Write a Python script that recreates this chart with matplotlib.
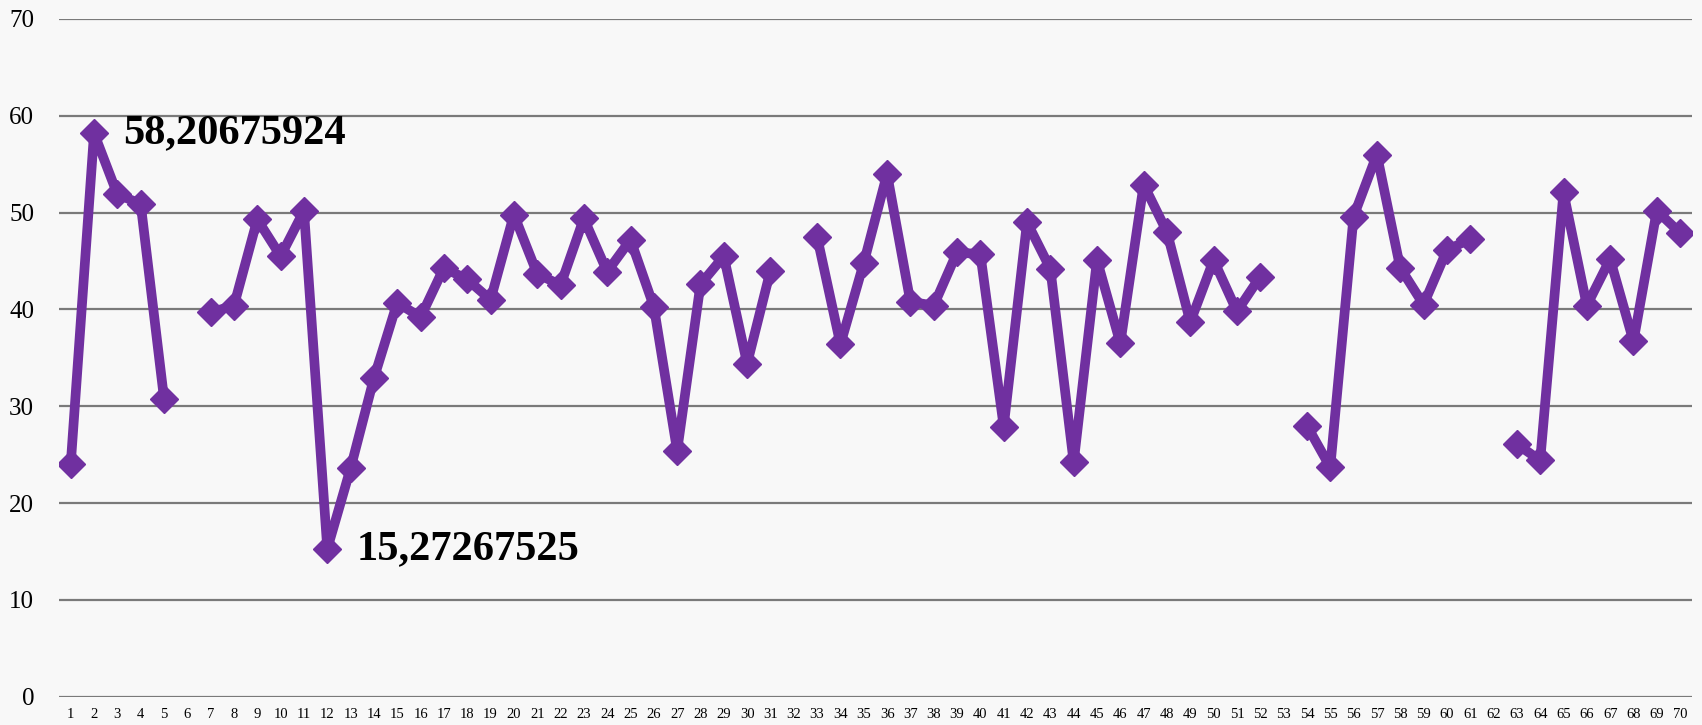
import numpy as np
import matplotlib.pyplot as plt

plt.rcParams['font.family'] = ['Liberation Serif', 'DejaVu Serif']

# chart data
categories = list(range(1, 71))
values = [24.0, 58.20675924, 51.9, 50.9, 30.8, np.nan, 39.7, 40.4, 49.3, 45.5,
          50.2, 15.27267525, 23.6, 32.9, 40.7, 39.2, 44.3, 43.1, 41.0, 49.8,
          43.7, 42.5, 49.4, 43.9, 47.2, 40.3, 25.4, 42.6, 45.5, 34.4,
          44.0, np.nan, 47.5, 36.4, 44.8, 54.0, 40.8, 40.4, 45.9, 45.7,
          27.9, 49.0, 44.2, 24.2, 45.1, 36.5, 52.9, 48.0, 38.7, 45.1,
          39.8, 43.4, np.nan, 28.0, 23.7, 49.6, 56.0, 44.3, 40.5, 46.1,
          47.3, np.nan, 26.1, 24.4, 52.1, 40.4, 45.2, 36.7, 50.2, 47.9]
max_label = '58,20675924'
min_label = '15,27267525'
y_ticks = [0, 10, 20, 30, 40, 50, 60, 70]

purple = '#7030A0'
bg = '#f8f8f8'

fig = plt.figure(figsize=(17.02, 7.25), dpi=100, facecolor=bg)
ax = fig.add_axes([0.0347, 0.039, 0.9593, 0.9348])
ax.set_facecolor(bg)

x = np.array(categories)
y = np.array(values)
ax.plot(x, y, color=purple, lw=7, marker='D', ms=14, mec=purple, mew=1,
        solid_joinstyle='round', zorder=3)

# max / min labels
i_max = int(np.nanargmax(y))
i_min = int(np.nanargmin(y))
for i, txt in [(i_max, max_label), (i_min, min_label)]:
    ax.annotate(txt, (x[i], y[i]), xytext=(21, 0), textcoords='offset points',
                ha='left', va='center', fontsize=30.5, fontweight='bold',
                color='black', zorder=4)

ax.set_xlim(0.5, 70.5)
ax.set_ylim(0, 70)
ax.set_yticks(y_ticks)
ax.set_xticks(x)
ax.set_xticklabels([str(c) for c in categories])
ax.yaxis.grid(True, color='#7a7a7a', lw=1.6)
ax.set_axisbelow(True)
for s in ax.spines.values():
    s.set_visible(False)
ax.tick_params(axis='y', length=0, pad=18, labelsize=18)
ax.tick_params(axis='x', length=0, pad=8, labelsize=10.5)

fig.savefig('out.png', dpi=100, facecolor=bg)
